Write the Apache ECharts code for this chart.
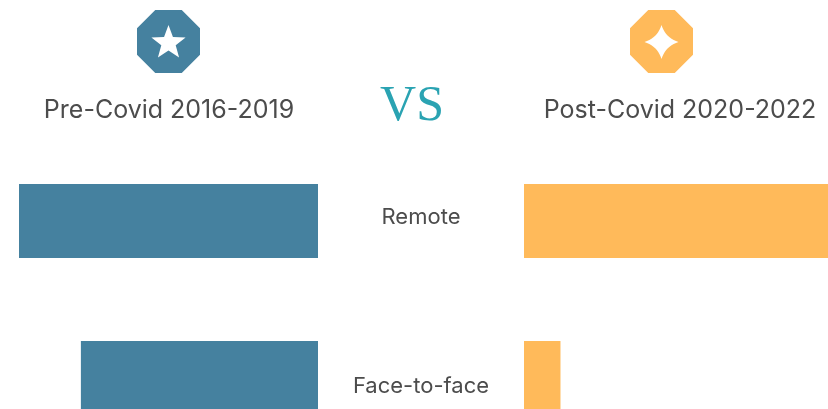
<!DOCTYPE html>
<html>
<head>
<meta charset="utf-8">
<style>
html, body { margin: 0; padding: 0; background: #fff; }
#chart { width: 828px; height: 409px; overflow: hidden; }
</style>
<script src="https://cdn.jsdelivr.net/npm/echarts@6/dist/echarts.min.js"></script>
</head>
<body>
<div id="chart"></div>
<script>
var categories = ["Remote", "Face-to-face"];
var preCovid = [100, 79.3];
var postCovid = [100, 12];
var preTitle = "Pre-Covid 2016-2019";
var postTitle = "Post-Covid 2020-2022";

var BLUE = "#45819f";
var ORANGE = "#ffba5a";
var TEXT = "#4c4c4c";
var FONT = "Inter";

function octagon(x, y, size){
	var c = size * 0.29;
	return [[x + c, y], [x + size - c, y], [x + size, y + c], [x + size, y + size - c],
		[x + size - c, y + size], [x + c, y + size], [x, y + size - c], [x, y + c]];
}
function star(cx, cy, r){
	var pts = [];
	for (var i = 0; i < 10; i++) {
		var rad = i % 2 ? r * 0.42 : r;
		var a = -Math.PI / 2 + i * Math.PI / 5;
		pts.push([cx + rad * Math.cos(a), cy + rad * Math.sin(a)]);
	}
	return pts;
}
// four point sparkle, each side is a curve pulled to the middle
function sparkle(cx, cy, r){
	var pts = [];
	var k = r * 0.24;
	var dirs = [[0, -1, 1, 0], [1, 0, 0, 1], [0, 1, -1, 0], [-1, 0, 0, -1]];
	for (var d = 0; d < 4; d++) {
		var a = dirs[d];
		for (var j = 0; j < 10; j++) {
			var t = j / 10;
			var u = 1 - t;
			var x = u * u * a[0] * r + 2 * u * t * (a[0] + a[2]) * k + t * t * a[2] * r;
			var y = u * u * a[1] * r + 2 * u * t * (a[1] + a[3]) * k + t * t * a[3] * r;
			pts.push([cx + x, cy + y]);
		}
	}
	return pts;
}
function headText(x, y, text){
	return {type: "text", x: x, y: y, style: {text: text, fill: TEXT, font: "400 25px " + FONT,
		textAlign: "center", textVerticalAlign: "middle"}};
}

var chart = echarts.init(document.getElementById("chart"), null, {renderer: "canvas"});
chart.setOption({
	animation: false,
	backgroundColor: "#fff",
	grid: [
		{left: 19, width: 299, top: 142.5, height: 314, outerBoundsMode: "none"},
		{left: 524, width: 304, top: 142.5, height: 314, outerBoundsMode: "none"}
	],
	xAxis: [
		{gridIndex: 0, type: "value", min: 0, max: 100, inverse: true, show: false},
		{gridIndex: 1, type: "value", min: 0, max: 100, show: false}
	],
	yAxis: [
		{gridIndex: 0, type: "category", inverse: true, data: categories, position: "right",
			axisLine: {show: false}, axisTick: {show: false}, axisLabel: {show: false}},
		{gridIndex: 1, type: "category", inverse: true, data: categories,
			axisLine: {show: false}, axisTick: {show: false},
			axisLabel: {
				margin: 103,
				align: "center",
				formatter: function(v, i){
					return (i === 0 ? "{up|" : "{down|") + v + "}";
				},
				rich: {
					up: {color: TEXT, fontFamily: FONT, fontWeight: 400, fontSize: 22, padding: [0, 0, 8, 0]},
					down: {color: TEXT, fontFamily: FONT, fontWeight: 400, fontSize: 22, padding: [16, 0, 0, 0]}
				}
			}}
	],
	series: [
		{type: "bar", xAxisIndex: 0, yAxisIndex: 0, data: preCovid, barWidth: 74,
			itemStyle: {color: BLUE}, silent: true},
		{type: "bar", xAxisIndex: 1, yAxisIndex: 1, data: postCovid, barWidth: 74,
			itemStyle: {color: ORANGE}, silent: true}
	],
	graphic: [
		{type: "polygon", shape: {points: octagon(137, 10, 63)}, style: {fill: BLUE}},
		{type: "polygon", shape: {points: star(168.5, 43, 18)}, style: {fill: "#fff"}},
		{type: "polygon", shape: {points: octagon(630, 10, 63)}, style: {fill: ORANGE}},
		{type: "polygon", shape: {points: sparkle(661.5, 42, 17)}, style: {fill: "#fff"}},
		headText(169, 110, preTitle),
		headText(680, 110, postTitle),
		{type: "text", x: 412, y: 107, style: {text: "VS", fill: "#2aa3b2",
			font: "50px 'Liberation Serif'", textAlign: "center", textVerticalAlign: "middle"}}
	]
});
</script>
</body>
</html>
